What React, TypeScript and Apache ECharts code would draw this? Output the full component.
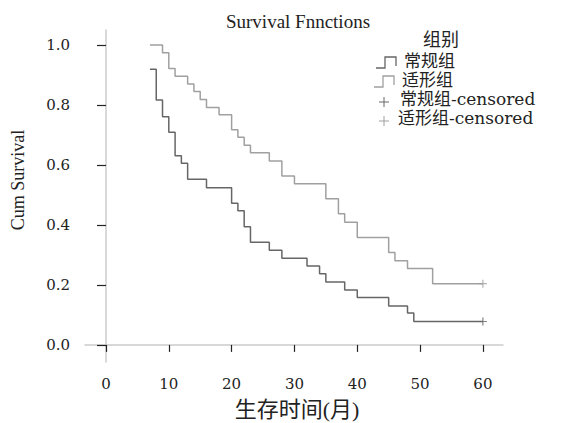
import React, { useEffect, useRef } from "react";
import * as echarts from "echarts";

// 适形组 (upper curve)
const upperTimes = [7, 9, 10, 11, 13, 14, 15, 16, 18, 20, 21, 22, 23, 26, 28, 30, 35, 37, 38, 40, 45, 46, 48, 52, 60];
const upperSurv = [1.0, 0.974, 0.922, 0.896, 0.87, 0.845, 0.818, 0.792, 0.767, 0.717, 0.692, 0.666, 0.641, 0.613, 0.563, 0.537, 0.487, 0.437, 0.409, 0.358, 0.308, 0.281, 0.255, 0.204, 0.204];
// 常规组 (lower curve)
const lowerTimes = [7, 8, 9, 10, 11, 12, 13, 16, 20, 21, 22, 23, 26, 28, 32, 34, 35, 38, 40, 45, 48, 49, 60];
const lowerSurv = [0.919, 0.817, 0.761, 0.709, 0.631, 0.606, 0.552, 0.524, 0.472, 0.447, 0.394, 0.342, 0.316, 0.289, 0.263, 0.237, 0.21, 0.183, 0.158, 0.13, 0.106, 0.078, 0.078];
// censored points
const upperCensored = [[60, 0.204]];
const lowerCensored = [[60, 0.078]];

const xTicks = [0, 10, 20, 30, 40, 50, 60];
const yTicks = [0, 0.2, 0.4, 0.6, 0.8, 1.0];

const legendNames = ["常规组", "适形组", "常规组-censored", "适形组-censored"];

const LOWER_COLOR = "#666666";
const UPPER_COLOR = "#a0a0a0";
const SERIF = '"DejaVu Serif", "Noto Sans CJK SC", serif';
const TSERIF = '"Liberation Serif", "Noto Sans CJK SC", serif';
const PLUS = "path://M0,5 L10,5 M5,0 L5,10";

function zip(a: number[], b: number[]) {
  return a.map((t, i) => [t, b[i]]);
}

function txt(text: string, x: number, y: number, font: string, align = "left", extra: any = {}) {
  return {
    type: "text",
    x,
    y,
    ...extra,
    style: {
      text,
      font,
      fill: "#222",
      align,
      textAlign: align,
      verticalAlign: "middle",
      textVerticalAlign: "middle",
    },
  };
}

export default function App() {
  const ref = useRef<HTMLDivElement>(null);
  useEffect(() => {
    if (!ref.current) return;
    const chart = echarts.init(ref.current, undefined, { renderer: "svg" });
    const rows = [61, 80, 99, 118];
    const option: any = {
      animation: false,
      backgroundColor: "#ffffff",
      grid: { left: 85, right: 75, top: 30, bottom: 61 },
      xAxis: {
        type: "value",
        min: -3.34,
        max: 63.2,
        splitLine: { show: false },
        axisLine: { show: true, lineStyle: { color: "#cccccc", width: 1.5 } },
        axisTick: { show: true, customValues: xTicks, length: 7, lineStyle: { color: "#222", width: 1.2 } },
        axisLabel: { customValues: xTicks, margin: 14, fontFamily: SERIF, fontSize: 15, color: "#222" },
      },
      yAxis: {
        type: "value",
        min: -0.057,
        max: 1.05,
        splitLine: { show: false },
        axisLine: { show: true, lineStyle: { color: "#cccccc", width: 1.5 } },
        axisTick: { show: true, customValues: yTicks, length: 9, lineStyle: { color: "#222", width: 1.2 } },
        axisLabel: {
          customValues: yTicks,
          margin: 15,
          fontFamily: SERIF,
          fontSize: 15,
          color: "#222",
          formatter: (v: number) => v.toFixed(1),
        },
      },
      series: [
        {
          name: legendNames[0],
          type: "line",
          step: "end",
          data: zip(lowerTimes, lowerSurv),
          symbol: "none",
          lineStyle: { color: LOWER_COLOR, width: 1.5 },
        },
        {
          name: legendNames[1],
          type: "line",
          step: "end",
          data: zip(upperTimes, upperSurv),
          symbol: "none",
          lineStyle: { color: UPPER_COLOR, width: 1.5 },
        },
        {
          name: legendNames[2],
          type: "scatter",
          data: lowerCensored,
          symbol: PLUS,
          symbolSize: 8,
          itemStyle: { color: "none", borderColor: LOWER_COLOR, borderWidth: 1.2 },
        },
        {
          name: legendNames[3],
          type: "scatter",
          data: upperCensored,
          symbol: PLUS,
          symbolSize: 8,
          itemStyle: { color: "none", borderColor: UPPER_COLOR, borderWidth: 1.2 },
        },
      ],
      graphic: [
        txt("Survival Fnnctions", 298, 21, `19px ${TSERIF}`, "center"),
        txt("组别", 441, 39, `18px ${SERIF}`, "center"),
        {
          type: "polyline",
          shape: { points: [[376, rows[0] + 7], [385, rows[0] + 7], [385, rows[0] - 4], [396, rows[0] - 4], [396, rows[0] + 5]] },
          style: { stroke: LOWER_COLOR, lineWidth: 1.3, fill: "none" },
        },
        txt(legendNames[0], 404, rows[0], `17px ${SERIF}`),
        {
          type: "polyline",
          shape: { points: [[374, rows[1] + 7], [383, rows[1] + 7], [383, rows[1] - 4], [394, rows[1] - 4], [394, rows[1] + 5]] },
          style: { stroke: UPPER_COLOR, lineWidth: 1.3, fill: "none" },
        },
        txt(legendNames[1], 402, rows[1], `17px ${SERIF}`),
        { type: "line", shape: { x1: 379, y1: rows[2] + 3, x2: 389, y2: rows[2] + 3 }, style: { stroke: LOWER_COLOR, lineWidth: 1 } },
        { type: "line", shape: { x1: 384, y1: rows[2] - 2, x2: 384, y2: rows[2] + 8 }, style: { stroke: LOWER_COLOR, lineWidth: 1 } },
        txt(legendNames[2], 400, rows[2], `17px ${SERIF}`),
        { type: "line", shape: { x1: 379, y1: rows[3] + 3, x2: 389, y2: rows[3] + 3 }, style: { stroke: UPPER_COLOR, lineWidth: 1 } },
        { type: "line", shape: { x1: 384, y1: rows[3] - 2, x2: 384, y2: rows[3] + 8 }, style: { stroke: UPPER_COLOR, lineWidth: 1 } },
        txt(legendNames[3], 398, rows[3], `17px ${SERIF}`),
        txt("Cum Survival", 18, 180, `18px ${TSERIF}`, "center", { rotation: Math.PI / 2 }),
        txt("生存时间(月)", 297, 409, `22px ${TSERIF}`, "center"),
      ],
    };
    chart.setOption(option);
    return () => chart.dispose();
  }, []);
  return (
    <div
      ref={ref}
      style={{ position: "fixed", left: 0, top: 0, width: 578, height: 423, background: "#fff" }}
    />
  );
}
